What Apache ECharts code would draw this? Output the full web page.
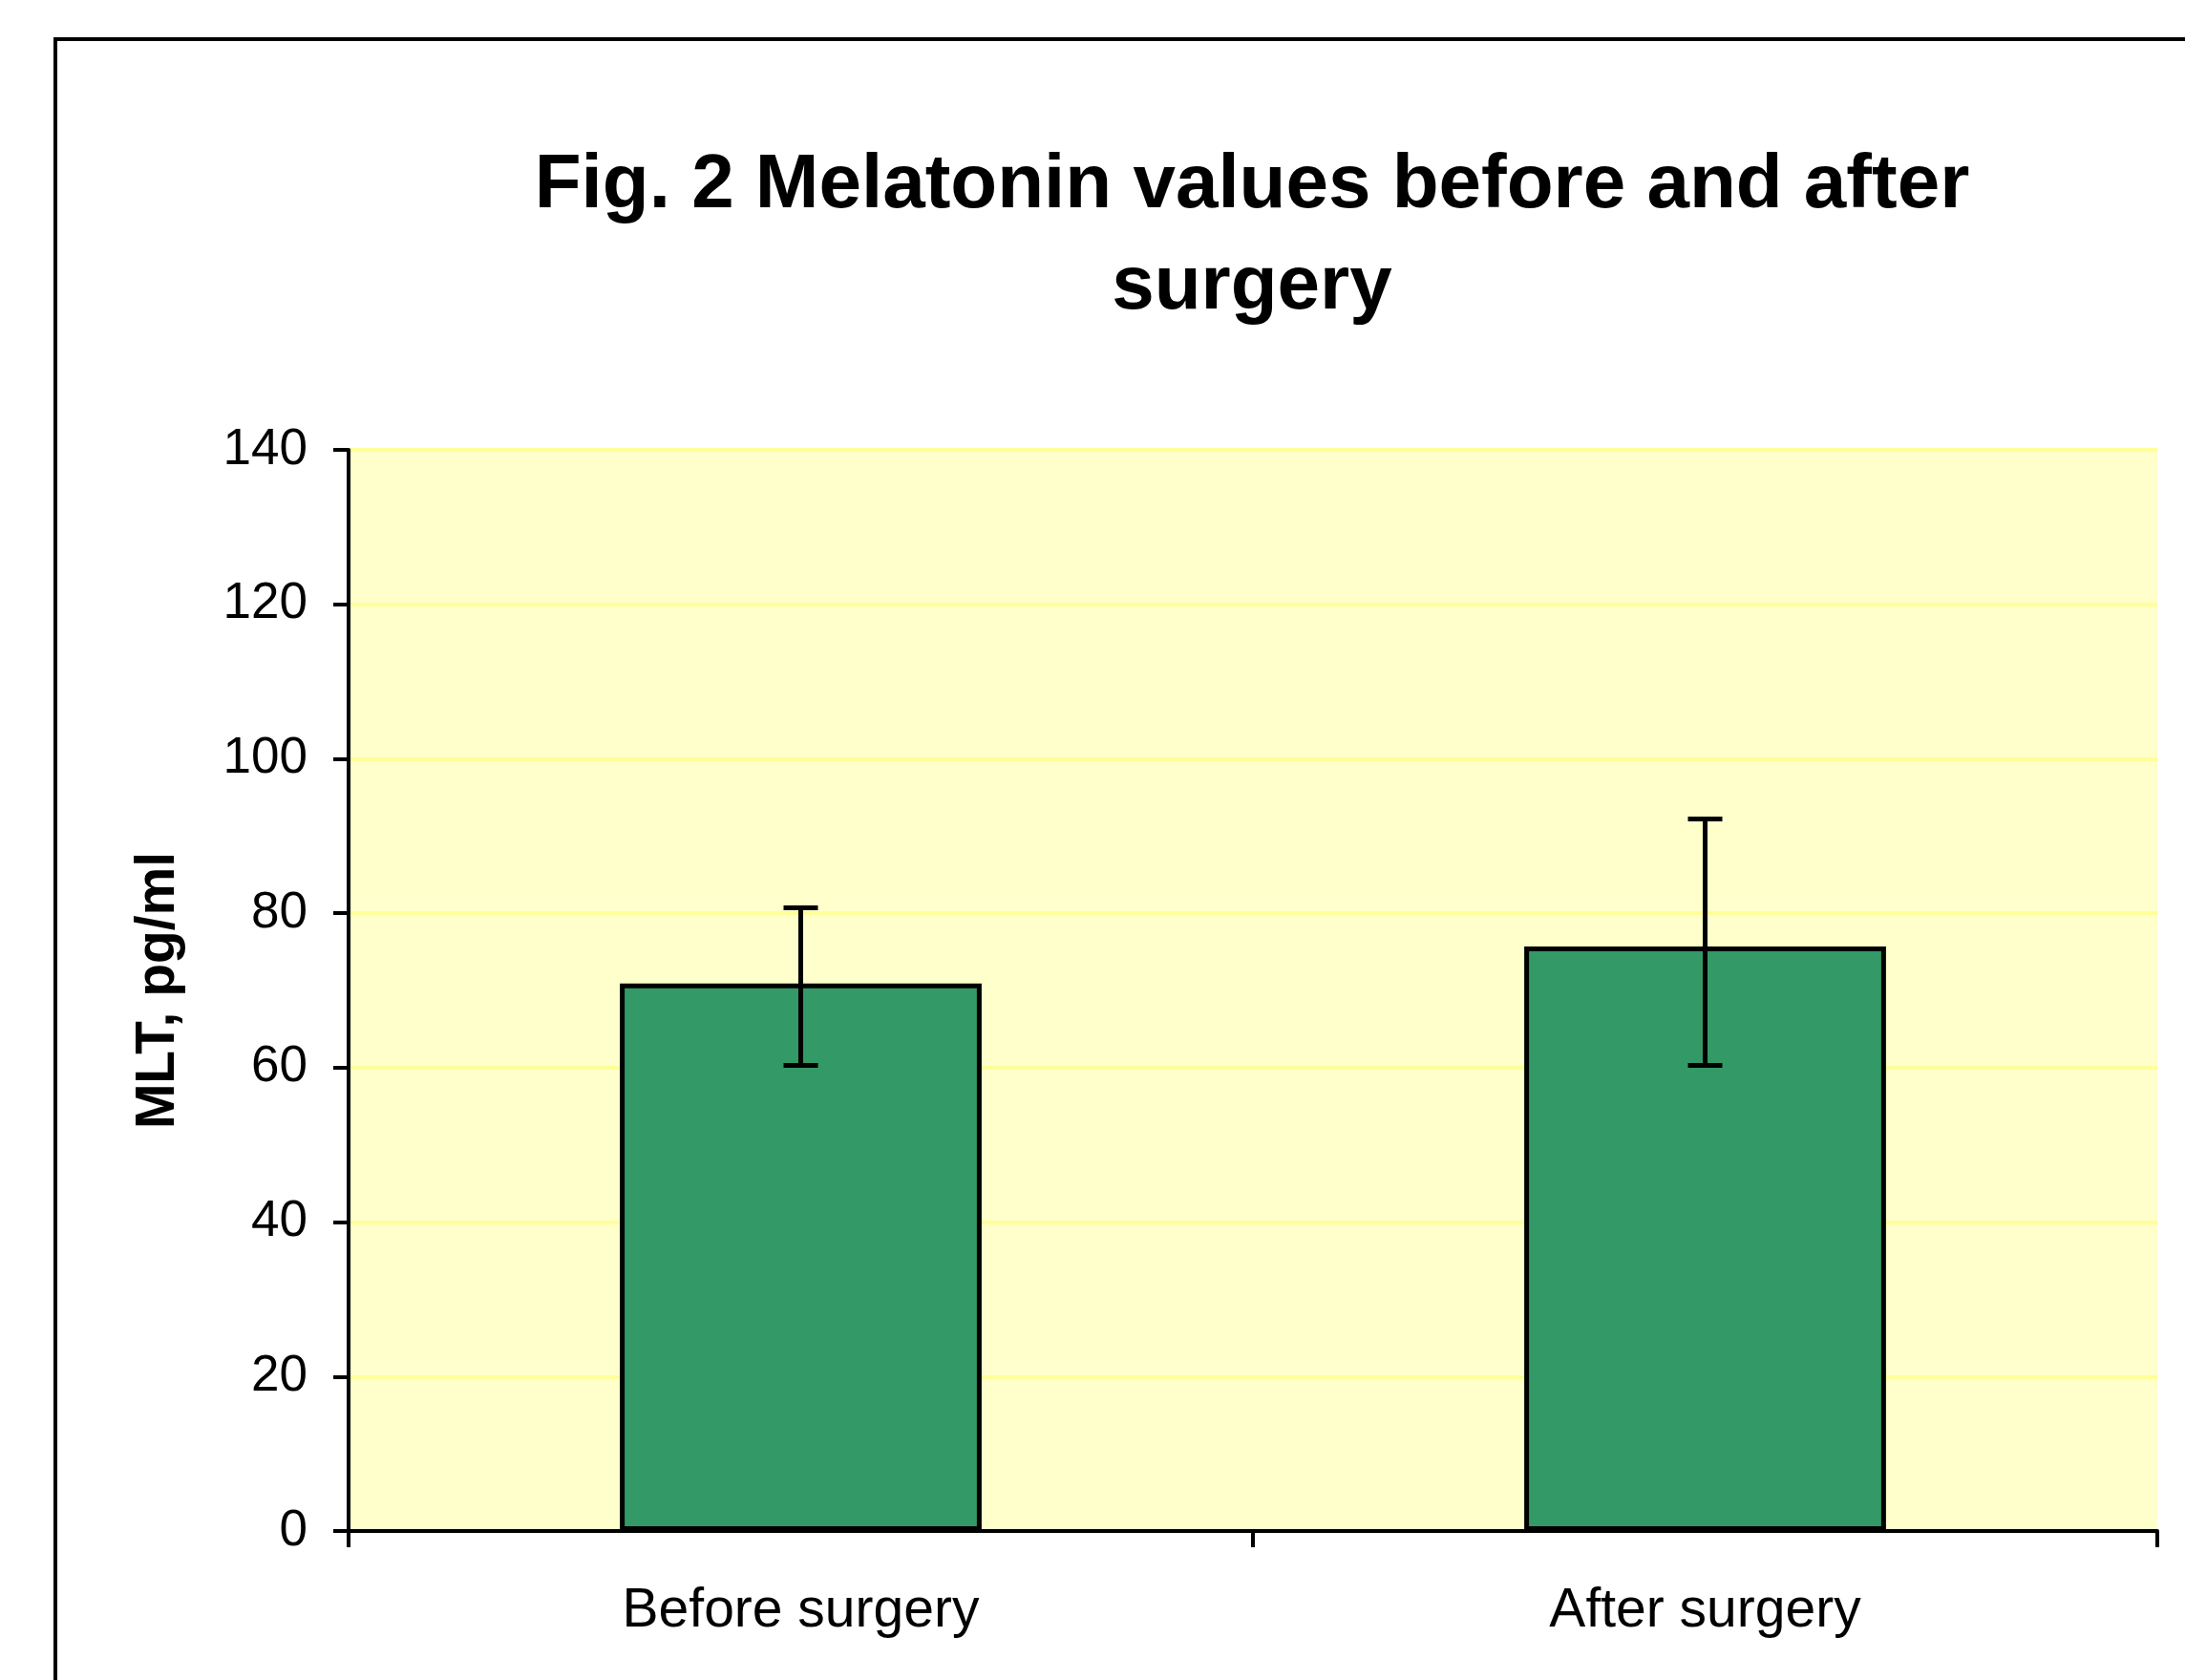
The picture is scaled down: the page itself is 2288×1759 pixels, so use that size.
<!DOCTYPE html>
<html>
<head>
<meta charset="utf-8">
<script src="https://cdn.jsdelivr.net/npm/echarts@6/dist/echarts.min.js"></script>
<style>
html,body{margin:0;padding:0;background:#fff;}
#c{width:2288px;height:1759px;}
</style>
</head>
<body>
<div id="c"></div>
<script>
const titleText = 'Fig. 2 Melatonin values before and after\nsurgery';
const yAxisName = 'MLT, pg/ml';
const categories = ['Before surgery', 'After surgery'];
const meanValues = [70.9, 75.7];
const errLow = [60.3, 60.3];
const errHigh = [80.7, 92.2];
const yMin = 0, yMax = 140, yStep = 20;

const FONT = '"Liberation Sans", Arial, sans-serif';
const chart = echarts.init(document.getElementById('c'), null, {renderer: 'canvas'});

const errData = categories.map((c, i) => [i, errLow[i], errHigh[i]]);

chart.setOption({
  backgroundColor: '#ffffff',
  animation: false,
  title: {
    text: titleText,
    left: 1311,
    top: 142,
    textAlign: 'center',
    padding: 0,
    textStyle: {fontFamily: FONT, fontSize: 80, fontWeight: 'bold', color: '#000', lineHeight: 106}
  },
  graphic: [{
    type: 'rect',
    shape: {x: 58, y: 41, width: 2400, height: 2000},
    style: {fill: 'none', stroke: '#000', lineWidth: 4},
    z: 100
  }],
  grid: {
    left: 365, right: 29, top: 471, bottom: 156,
    show: true, backgroundColor: '#FFFFCC', borderWidth: 0
  },
  xAxis: {
    type: 'category',
    data: categories,
    axisLine: {lineStyle: {color: '#000', width: 4}},
    axisTick: {show: true, length: 17, lineStyle: {color: '#000', width: 4}},
    axisLabel: {fontFamily: FONT, fontSize: 57, color: '#000', margin: 56},
    splitLine: {show: false}
  },
  yAxis: {
    type: 'value',
    min: yMin, max: yMax, interval: yStep,
    name: yAxisName,
    nameLocation: 'middle',
    nameRotate: 90,
    nameGap: 170,
    nameTextStyle: {fontFamily: FONT, fontSize: 57, fontWeight: 'bold', color: '#000'},
    axisLine: {show: true, lineStyle: {color: '#000', width: 4}},
    axisTick: {show: true, length: 16, lineStyle: {color: '#000', width: 4}},
    axisLabel: {fontFamily: FONT, fontSize: 53, color: '#000', margin: 43},
    splitLine: {show: true, lineStyle: {color: '#FFFF99', width: 4}}
  },
  series: [{
    type: 'bar',
    data: meanValues,
    barWidth: '40%',
    itemStyle: {color: '#339966', borderColor: '#000', borderWidth: 5},
    z: 2
  }, {
    type: 'custom',
    data: errData,
    z: 5,
    renderItem: function (params, api) {
      const x = api.value(0);
      const lo = api.coord([x, api.value(1)]);
      const hi = api.coord([x, api.value(2)]);
      const half = 18;
      const st = {stroke: '#000', lineWidth: 5};
      return {
        type: 'group',
        children: [
          {type: 'line', shape: {x1: hi[0], y1: hi[1], x2: lo[0], y2: lo[1]}, style: st},
          {type: 'line', shape: {x1: hi[0] - half, y1: hi[1], x2: hi[0] + half, y2: hi[1]}, style: st},
          {type: 'line', shape: {x1: lo[0] - half, y1: lo[1], x2: lo[0] + half, y2: lo[1]}, style: st}
        ]
      };
    },
    encode: {x: 0, y: [1, 2]}
  }]
});
</script>
</body>
</html>
